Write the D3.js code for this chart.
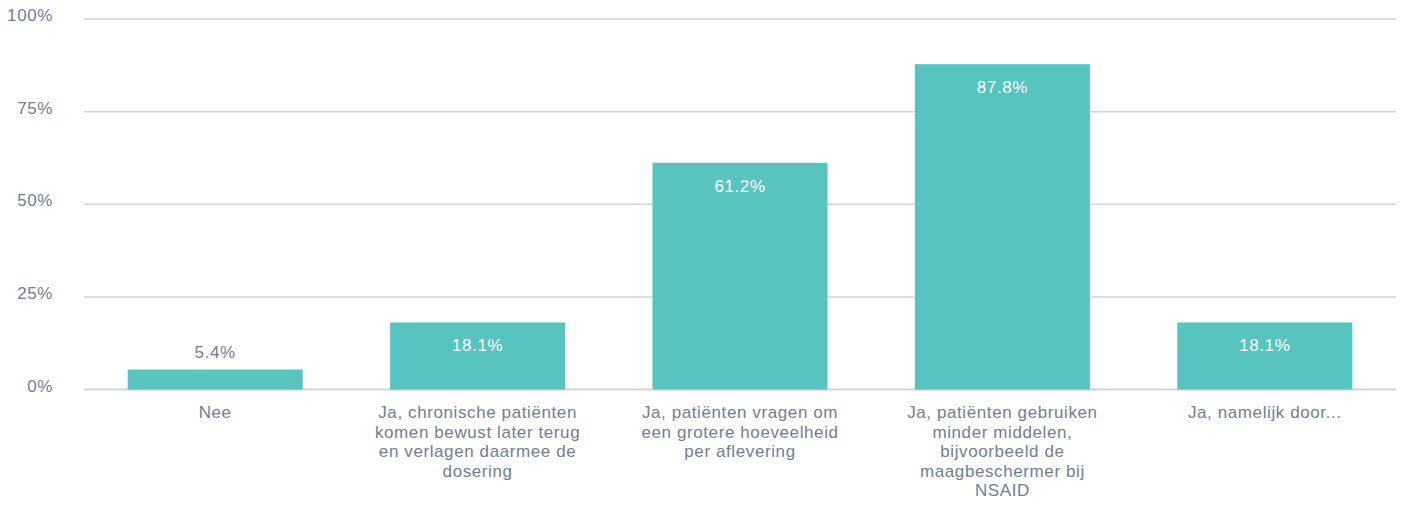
<!DOCTYPE html>
<html><head><meta charset="utf-8">
<script src="https://cdn.jsdelivr.net/npm/d3@7"></script>
<style>
html,body{margin:0;padding:0;background:#fff;}
text{font-family:"Liberation Sans",Arial,sans-serif;}
</style></head>
<body><svg id="c" width="1404" height="506"></svg>
<script>
const categories = [
  ["Nee"],
  ["Ja, chronische patiënten","komen bewust later terug","en verlagen daarmee de","dosering"],
  ["Ja, patiënten vragen om","een grotere hoeveelheid","per aflevering"],
  ["Ja, patiënten gebruiken","minder middelen,","bijvoorbeeld de","maagbeschermer bij","NSAID"],
  ["Ja, namelijk door..."]
];
const values = [5.4, 18.1, 61.2, 87.8, 18.1];
const yTicks = [0, 25, 50, 75, 100];

(function(){
const svg = d3.select("#c");
const mL = 84, mR = 1396, mT = 19, mB = 389.5;
const textColor = "#708090", barColor = "#57c4bf", gridColor = "#d3d3d3";
const FS = "17px", LS = "0.6px";

const x = d3.scaleBand().domain(d3.range(categories.length)).range([mL, mR]).paddingInner(0.333).paddingOuter(0.1665);
const y = d3.scaleLinear().domain([0, 100]).range([mB, mT]);

svg.append("g").selectAll("line").data(yTicks).join("line")
  .attr("x1", mL).attr("x2", mR)
  .attr("y1", d => y(d)).attr("y2", d => y(d))
  .attr("stroke", gridColor).attr("stroke-width", d => d === 0 ? 2 : 1.5);

svg.append("g").selectAll("text").data(yTicks).join("text")
  .attr("x", 53).attr("y", d => y(d) + 2)
  .attr("text-anchor", "end")
  .attr("fill", textColor).style("font-size", FS).style("letter-spacing", LS)
  .text(d => d + "%");

svg.append("g").selectAll("rect").data(values).join("rect")
  .attr("x", (d, i) => x(i)).attr("width", x.bandwidth())
  .attr("y", d => y(d)).attr("height", d => y(0) - y(d))
  .attr("fill", barColor);

svg.append("g").selectAll("text").data(values).join("text")
  .attr("x", (d, i) => x(i) + x.bandwidth() / 2)
  .attr("y", d => (y(0) - y(d)) > 40 ? y(d) + 29 : y(d) - 11.5)
  .attr("text-anchor", "middle")
  .attr("fill", d => (y(0) - y(d)) > 40 ? "#ffffff" : textColor)
  .style("font-size", FS).style("letter-spacing", LS)
  .text(d => d.toFixed(1) + "%");

const cg = svg.append("g").selectAll("text").data(categories).join("text")
  .attr("text-anchor", "middle")
  .attr("fill", textColor).style("font-size", FS).style("letter-spacing", LS);
cg.each(function(lines, i) {
  const t = d3.select(this);
  lines.forEach((l, j) => {
    t.append("tspan").attr("x", x(i) + x.bandwidth() / 2).attr("y", mB + 28.5 + j * 19.5).text(l);
  });
});
})();
</script></body></html>
